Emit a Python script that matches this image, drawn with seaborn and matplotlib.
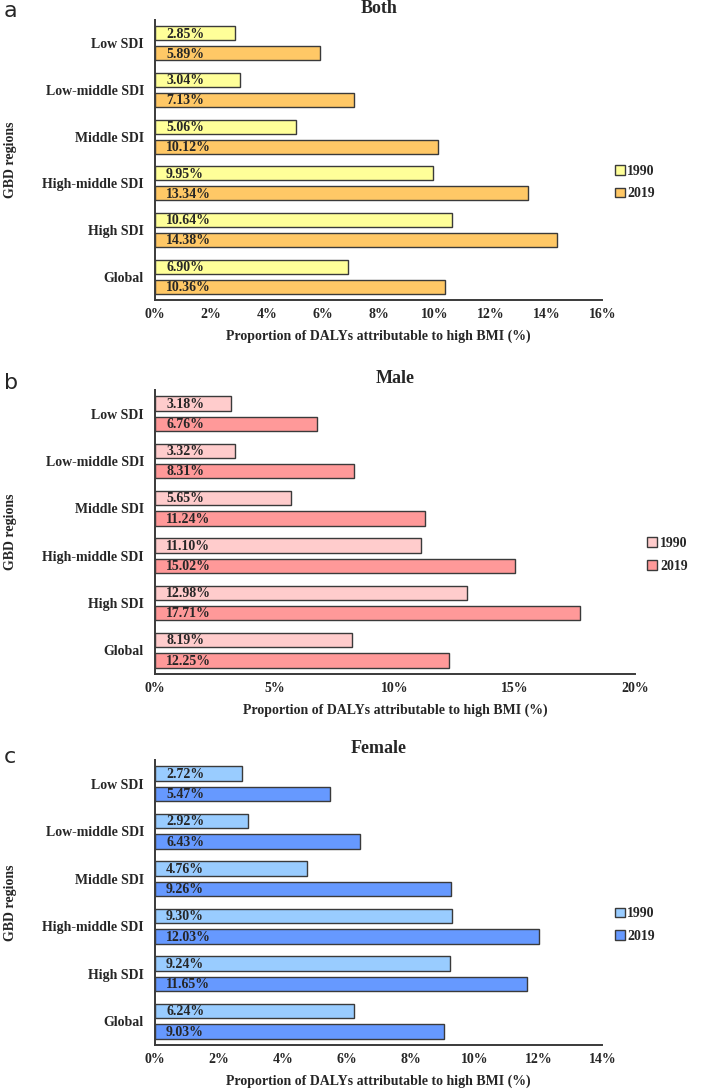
import pandas as pd
import matplotlib.pyplot as plt
import matplotlib.ticker as mtick
import seaborn as sns


# データ
regions = ["Low SDI", "Low-middle SDI", "Middle SDI", "High-middle SDI", "High SDI", "Global"]
years = ["1990", "2019"]

both_1990 = [2.85, 3.04, 5.06, 9.95, 10.64, 6.90]
both_2019 = [5.89, 7.13, 10.12, 13.34, 14.38, 10.36]
male_1990 = [3.18, 3.32, 5.65, 11.10, 12.98, 8.19]
male_2019 = [6.76, 8.31, 11.24, 15.02, 17.71, 12.25]
female_1990 = [2.72, 2.92, 4.76, 9.30, 9.24, 6.24]
female_2019 = [5.47, 6.43, 9.26, 12.03, 11.65, 9.03]

sns.set_style("white")
plt.rcParams["font.family"] = ["Liberation Serif", "DejaVu Serif"]
plt.rcParams["font.weight"] = "bold"

W, H = 709, 1089
fig = plt.figure(figsize=(W / 100, H / 100), dpi=100, facecolor="white")

# パネル設定: (letter, title, v1990, v2019, colors, xmax, step, rect, letter_y)
panels = [
    ("a", "Both", both_1990, both_2019, ["#FFFF99", "#FFC866"], 16, 2,
     [0.2186, 0.7245, 0.631, 0.2571], 17),
    ("b", "Male", male_1990, male_2019, ["#FFCCCC", "#FF9999"], 20, 5,
     [0.2186, 0.3811, 0.677, 0.2608], 389),
    ("c", "Female", female_1990, female_2019, ["#99CCFF", "#6699FF"], 14, 2,
     [0.2186, 0.0404, 0.631, 0.2617], 763),
]

edge = "#3a3a3a"

for letter, title, v1990, v2019, colors, xmax, step, rect, ly in panels:
    ax = fig.add_axes(rect)
    df = pd.DataFrame({
        "region": regions * 2,
        "value": v1990 + v2019,
        "year": [years[0]] * len(regions) + [years[1]] * len(regions),
    })
    sns.barplot(data=df, x="value", y="region", hue="year", orient="h",
                palette=colors, saturation=1, edgecolor=edge, linewidth=1.0,
                width=0.86, gap=0.3, ax=ax)

    # バー内のラベル
    for cont, vals in zip(ax.containers, [v1990, v2019]):
        for bar, v in zip(cont, vals):
            yc = bar.get_y() + bar.get_height() / 2
            ax.annotate(f"{v:.2f}%", xy=(0, yc), xytext=(8, -0.5),
                        textcoords="offset points", va="center", ha="left",
                        fontsize=10, fontweight="bold")

    ax.set_xlim(0, xmax)
    ax.set_ylim(len(regions) - 0.5, -0.5)
    ax.xaxis.set_major_locator(mtick.MultipleLocator(step))
    ax.xaxis.set_major_formatter(mtick.PercentFormatter(decimals=0))
    ax.set_yticks(range(len(regions)))
    ax.set_yticks([i - 0.5 for i in range(len(regions) + 1)], minor=True)
    ax.tick_params(axis="y", which="major", length=0, pad=8, labelsize=10)
    ax.tick_params(axis="y", which="minor", length=4, width=1.2, color=edge, direction="out")
    ax.tick_params(axis="x", which="major", length=4, width=1.2, color=edge,
                   direction="in", pad=6, labelsize=10)
    for lab in ax.get_xticklabels() + ax.get_yticklabels():
        lab.set_fontweight("bold")

    for s in ["top", "right"]:
        ax.spines[s].set_visible(False)
    for s in ["left", "bottom"]:
        ax.spines[s].set_color(edge)
        ax.spines[s].set_linewidth(1.4)

    ax.set_title(title, fontsize=13, fontweight="bold", pad=5)
    ax.set_xlabel("Proportion of DALYs attributable to high BMI (%)",
                  fontsize=10, fontweight="bold", labelpad=6)
    ax.set_ylabel("GBD regions", fontsize=10, fontweight="bold")
    ax.yaxis.set_label_coords(-(rect[0] * W - 4) / (rect[2] * W), 0.5)
    ax.yaxis.label.set_verticalalignment("top")

    leg = ax.legend(loc="center left", bbox_to_anchor=(1.0, 0.42), frameon=False,
                    handlelength=0.7, handleheight=0.7, handletextpad=0.2,
                    labelspacing=0.7, prop={"weight": "bold", "size": 10})
    for h in leg.legend_handles:
        h.set_edgecolor(edge)
        h.set_linewidth(1.0)

    # パネル記号
    fig.text(4 / W, 1 - ly / H, letter, fontsize=16,
             family="DejaVu Sans", fontweight="normal", va="baseline", ha="left")

fig.savefig("out.png", dpi=100, facecolor="white")
